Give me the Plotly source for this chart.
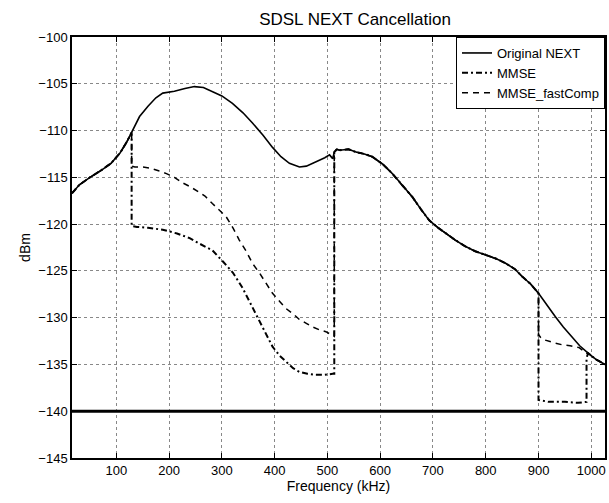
import plotly.graph_objects as go

# ---------------- data ----------------
freq_next = [16, 30, 50, 70, 90, 107, 120, 129, 144, 160, 175, 188, 210, 230, 248, 265,
             282, 300, 320, 340, 358, 378, 396, 412, 428, 447, 460, 472, 485, 495, 504,
             510, 513, 518, 523, 540, 554, 570, 585, 605, 623, 642, 661, 677, 693, 710,
             724, 742, 762, 780, 800, 820, 838, 855, 869, 885, 900, 915, 932, 947, 962,
             978, 994, 1010, 1026]
next_dbm = [-116.7, -115.8, -115.0, -114.3, -113.5, -112.4, -111.2, -110.2, -108.5, -107.4,
            -106.5, -106.0, -105.8, -105.5, -105.3, -105.4, -105.8, -106.3, -107.1, -108.1,
            -109.2, -110.5, -111.8, -112.8, -113.5, -113.9, -113.8, -113.5, -113.2, -112.9,
            -112.6, -113.0, -112.3, -112.0, -112.1, -112.0, -112.3, -112.5, -112.8, -113.6,
            -114.6, -115.9, -117.1, -118.4, -119.6, -120.4, -121.0, -121.7, -122.4, -122.9,
            -123.3, -123.7, -124.2, -124.8, -125.6, -126.4, -127.4, -128.6, -129.9, -131.0,
            -132.0, -133.0, -133.8, -134.5, -135.0]

# MMSE own segments (where it departs from the original NEXT curve)
mmse_seg1_freq = [129, 139, 160, 188, 215, 239, 258, 282, 302, 321, 339, 358, 377, 396,
                  410, 421, 435, 447, 462, 478, 495, 510, 513]
mmse_seg1_dbm = [-120.2, -120.3, -120.4, -120.6, -121.0, -121.5, -122.1, -122.8, -124.0,
                 -125.2, -126.8, -128.9, -131.0, -133.1, -134.1, -134.7, -135.4, -135.8,
                 -136.0, -136.1, -136.1, -136.0, -136.0]
mmse_seg2_freq = [900, 920, 950, 975, 991, 991]
mmse_seg2_dbm = [-138.8, -139.0, -139.0, -139.1, -139.0, -134.3]

# MMSE_fastComp own segments
fast_seg1_freq = [129, 135, 150, 163, 180, 195, 210, 226, 240, 252, 268, 282, 296, 308,
                  321, 333, 346, 358, 371, 384, 396, 410, 421, 435, 447, 460, 472, 485,
                  497, 513]
fast_seg1_dbm = [-113.8, -113.9, -113.9, -114.0, -114.3, -114.6, -115.0, -115.6, -116.0,
                 -116.4, -117.0, -117.8, -118.5, -119.2, -120.4, -121.7, -122.9, -124.2,
                 -125.2, -126.4, -127.4, -128.3, -129.0, -129.6, -130.2, -130.6, -131.0,
                 -131.3, -131.5, -132.0]
fast_seg2_freq = [900, 905, 913, 930, 945, 960, 977, 991]
fast_seg2_dbm = [-131.8, -132.2, -132.4, -132.7, -132.9, -133.0, -133.2, -133.8]

floor_dbm = -140

x_ticks = [100, 200, 300, 400, 500, 600, 700, 800, 900, 1000]
y_ticks = [-145, -140, -135, -130, -125, -120, -115, -110, -105, -100]


def build(seg1_f, seg1_d, seg2_f, seg2_d):
    f, d = [], []
    for a, b in zip(freq_next, next_dbm):
        if a <= seg1_f[0]:
            f.append(a); d.append(b)
    f += seg1_f; d += seg1_d
    for a, b in zip(freq_next, next_dbm):
        if seg1_f[-1] <= a <= seg2_f[0]:
            f.append(a); d.append(b)
    f += seg2_f; d += seg2_d
    for a, b in zip(freq_next, next_dbm):
        if a > seg2_f[-1]:
            f.append(a); d.append(b)
    return f, d


mmse_freq, mmse_dbm = build(mmse_seg1_freq, mmse_seg1_dbm, mmse_seg2_freq, mmse_seg2_dbm)
fast_freq, fast_dbm = build(fast_seg1_freq, fast_seg1_dbm, fast_seg2_freq, fast_seg2_dbm)

FONT = "Liberation Sans, Arial, sans-serif"

fig = go.Figure()
fig.add_trace(go.Scatter(x=[freq_next[0], freq_next[-1]], y=[floor_dbm, floor_dbm],
                         mode="lines", line=dict(color="black", width=3),
                         showlegend=False, hoverinfo="skip"))
fig.add_trace(go.Scatter(x=freq_next, y=next_dbm, mode="lines", name="Original NEXT",
                         line=dict(color="black", width=1.6)))
fig.add_trace(go.Scatter(x=mmse_freq, y=mmse_dbm, mode="lines", name="MMSE",
                         line=dict(color="black", width=2, dash="6px,3px,2px,3px")))
fig.add_trace(go.Scatter(x=fast_freq, y=fast_dbm, mode="lines", name="MMSE_fastComp",
                         line=dict(color="black", width=1.5, dash="6px,5px")))

axis_common = dict(showline=True, linecolor="black", linewidth=1.5, mirror="ticks",
                   ticks="inside", ticklen=5, tickcolor="black",
                   showgrid=True, gridcolor="#888", griddash="dot", gridwidth=1,
                   zeroline=False, tickfont=dict(family=FONT, size=13, color="black"))

fig.update_xaxes(range=[freq_next[0], freq_next[-1]], tickvals=x_ticks,
                 title=dict(text="Frequency (kHz)", font=dict(family=FONT, size=14, color="black"),
                            standoff=4),
                 **axis_common)
fig.update_yaxes(range=[y_ticks[0], y_ticks[-1]], tickvals=y_ticks,
                 title=dict(text="dBm", font=dict(family=FONT, size=14, color="black"),
                            standoff=4),
                 **axis_common)

fig.update_layout(
    width=609, height=503,
    margin=dict(l=72, r=2, t=37, b=45),
    paper_bgcolor="white", plot_bgcolor="white",
    title=dict(text="SDSL NEXT Cancellation", x=0.583, xref="container", xanchor="center",
               y=0.962, yref="container", yanchor="middle",
               font=dict(family=FONT, size=17, color="black")),
    legend=dict(x=1, y=1, xanchor="right", yanchor="top", bgcolor="white",
                bordercolor="black", borderwidth=1, itemwidth=30, tracegroupgap=0,
                font=dict(family=FONT, size=13, color="black")),
    showlegend=True,
)

fig.write_html("out.html")
